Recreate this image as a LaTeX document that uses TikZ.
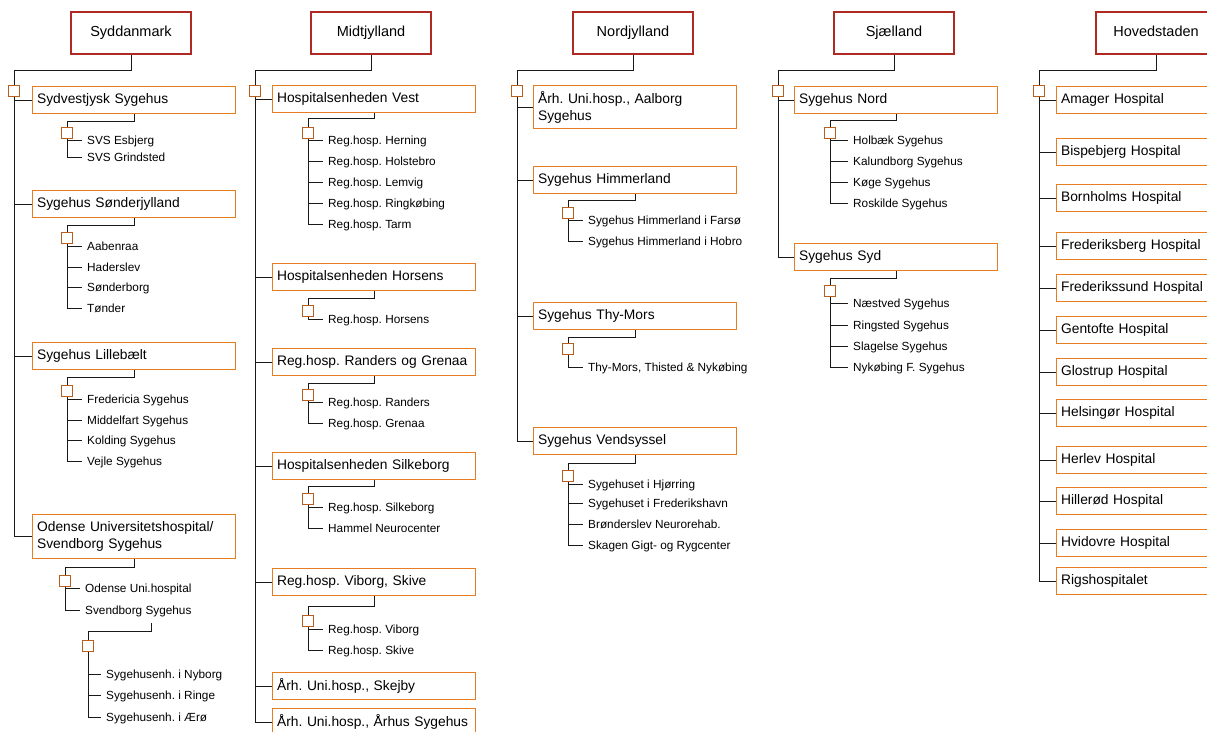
\documentclass[tikz,border=0pt]{standalone}
\usepackage{fontspec}
\setmainfont{Liberation Sans}

\definecolor{regionred}{RGB}{176,42,36}
\definecolor{unitorange}{RGB}{230,125,35}
\definecolor{markbrown}{RGB}{185,95,30}

\tikzset{
  regionbox/.style={draw=regionred, line width=2pt, fill=white, minimum width=120pt, minimum height=42pt, text height=10.5pt, text depth=3pt, font=\fontsize{14.5}{17}\selectfont},
  unitbox/.style={draw=unitorange, line width=1.2pt, fill=white, anchor=north west, text width=194pt, inner xsep=4.5pt, minimum height=27pt, align=left, font=\fontsize{13.8}{17}\selectfont},
  itembox/.style={anchor=west, inner xsep=5pt, inner ysep=0pt, text height=10pt, text depth=2pt, font=\fontsize{11.8}{14}\selectfont},
  markbox/.style={draw=markbrown, fill=white, line width=0.9pt, minimum size=11pt, inner sep=0pt},
  conn/.style={draw=black!90, line width=1pt},
}

\begin{document}
\frenchspacing
\begin{tikzpicture}[x=1pt, y=-1pt]
    \useasboundingbox (0,0) rectangle (1207,731);
    \clip (0,0) rectangle (1207,731);

    % ---------- Syddanmark ----------
    \node[regionbox] (sdk) at (131,33) {Syddanmark};
    \coordinate (sdkT) at (14,70);
    \node[unitbox] (sdk1) at (32,86) {Sydvestjysk Sygehus};
    \node[unitbox] (sdk2) at (32,190) {Sygehus Sønderjylland};
    \node[unitbox] (sdk3) at (32,342) {Sygehus Lillebælt};
    \node[unitbox, minimum height=44pt] (sdk4) at (32,514) {Odense Universitetshospital/\\Svendborg Sygehus};
    \draw[conn] (sdk.south) |- (sdkT) -- (sdkT |- sdk4.west);
    \foreach \i in {1,...,4} \draw[conn] (sdkT |- sdk\i.west) -- (sdk\i.west);
    \node[markbox] (sdkM) at (14,91) {};

    % Sydvestjysk Sygehus
    \coordinate (sdk1K) at (67,121);
    \foreach \txt/\y [count=\i] in {SVS Esbjerg/140, SVS Grindsted/157}{
      \node[itembox] (sdk1i\i) at (82,\y) {\txt};
      \draw[conn] (sdk1K |- sdk1i\i.west) -- (sdk1i\i.west);
    }
    \draw[conn] (sdk1.south) |- (sdk1K) -- (sdk1K |- sdk1i2.west);
    \node[markbox] (sdk1M) at (67,133) {};

    % Sygehus Sønderjylland
    \coordinate (sdk2K) at (67,225);
    \foreach \txt/\y [count=\i] in {Aabenraa/246, Haderslev/267, Sønderborg/287, Tønder/308}{
      \node[itembox] (sdk2i\i) at (82,\y) {\txt};
      \draw[conn] (sdk2K |- sdk2i\i.west) -- (sdk2i\i.west);
    }
    \draw[conn] (sdk2.south) |- (sdk2K) -- (sdk2K |- sdk2i4.west);
    \node[markbox] (sdk2M) at (67,238) {};

    % Sygehus Lillebælt
    \coordinate (sdk3K) at (67,377);
    \foreach \txt/\y [count=\i] in {Fredericia Sygehus/399, Middelfart Sygehus/420, Kolding Sygehus/440, Vejle Sygehus/461}{
      \node[itembox] (sdk3i\i) at (82,\y) {\txt};
      \draw[conn] (sdk3K |- sdk3i\i.west) -- (sdk3i\i.west);
    }
    \draw[conn] (sdk3.south) |- (sdk3K) -- (sdk3K |- sdk3i4.west);
    \node[markbox] (sdk3M) at (67,391) {};

    % Odense / Svendborg
    \coordinate (sdk4K) at (65,567);
    \foreach \txt/\y [count=\i] in {Odense Uni.hospital/588, Svendborg Sygehus/610}{
      \node[itembox] (sdk4i\i) at (80,\y) {\txt};
      \draw[conn] (sdk4K |- sdk4i\i.west) -- (sdk4i\i.west);
    }
    \draw[conn] (sdk4.south) |- (sdk4K) -- (sdk4K |- sdk4i2.west);
    \node[markbox] (sdk4M) at (65,581) {};

    % Svendborg Sygehus
    \coordinate (sdk5K) at (88,631);
    \foreach \txt/\y [count=\i] in {Sygehusenh. i Nyborg/674, Sygehusenh. i Ringe/695, Sygehusenh. i Ærø/717}{
      \node[itembox] (sdk5i\i) at (101,\y) {\txt};
      \draw[conn] (sdk5K |- sdk5i\i.west) -- (sdk5i\i.west);
    }
    \draw[conn] ([xshift=13pt, yshift=-7pt]sdk4i2.south) |- (sdk5K) -- (sdk5K |- sdk5i3.west);
    \node[markbox] (sdk5M) at (88,646) {};

    % ---------- Midtjylland ----------
    \node[regionbox] (mid) at (371,33) {Midtjylland};
    \coordinate (midT) at (255,70);
    \node[unitbox] (mid1) at (272,85) {Hospitalsenheden Vest};
    \node[unitbox] (mid2) at (272,263) {Hospitalsenheden Horsens};
    \node[unitbox] (mid3) at (272,348) {Reg.hosp. Randers og Grenaa};
    \node[unitbox] (mid4) at (272,452) {Hospitalsenheden Silkeborg};
    \node[unitbox] (mid5) at (272,568) {Reg.hosp. Viborg, Skive};
    \node[unitbox] (mid6) at (272,672) {Årh. Uni.hosp., Skejby};
    \node[unitbox] (mid7) at (272,708) {Årh. Uni.hosp., Århus Sygehus};
    \draw[conn] (mid.south) |- (midT) -- (midT |- mid7.west);
    \foreach \i in {1,...,7} \draw[conn] (midT |- mid\i.west) -- (mid\i.west);
    \node[markbox] (midM) at (255,91) {};

    % Hospitalsenheden Vest
    \coordinate (mid1K) at (308,118);
    \foreach \txt/\y [count=\i] in {Reg.hosp. Herning/140, Reg.hosp. Holstebro/161, Reg.hosp. Lemvig/182, Reg.hosp. Ringkøbing/203, Reg.hosp. Tarm/224}{
      \node[itembox] (mid1i\i) at (323,\y) {\txt};
      \draw[conn] (mid1K |- mid1i\i.west) -- (mid1i\i.west);
    }
    \draw[conn] (mid1.south) |- (mid1K) -- (mid1K |- mid1i5.west);
    \node[markbox] (mid1M) at (308,133) {};

    % Hospitalsenheden Horsens
    \coordinate (mid2K) at (308,298);
    \node[itembox] (mid2i1) at (323,319) {Reg.hosp. Horsens};
    \draw[conn] (mid2.south) |- (mid2K) |- (mid2i1.west);
    \node[markbox] (mid2M) at (308,311) {};

    % Randers og Grenaa
    \coordinate (mid3K) at (308,383);
    \foreach \txt/\y [count=\i] in {Reg.hosp. Randers/402, Reg.hosp. Grenaa/423}{
      \node[itembox] (mid3i\i) at (323,\y) {\txt};
      \draw[conn] (mid3K |- mid3i\i.west) -- (mid3i\i.west);
    }
    \draw[conn] (mid3.south) |- (mid3K) -- (mid3K |- mid3i2.west);
    \node[markbox] (mid3M) at (308,395) {};

    % Hospitalsenheden Silkeborg
    \coordinate (mid4K) at (308,486);
    \foreach \txt/\y [count=\i] in {Reg.hosp. Silkeborg/507, Hammel Neurocenter/528}{
      \node[itembox] (mid4i\i) at (323,\y) {\txt};
      \draw[conn] (mid4K |- mid4i\i.west) -- (mid4i\i.west);
    }
    \draw[conn] (mid4.south) |- (mid4K) -- (mid4K |- mid4i2.west);
    \node[markbox] (mid4M) at (308,499) {};

    % Viborg, Skive
    \coordinate (mid5K) at (308,606);
    \foreach \txt/\y [count=\i] in {Reg.hosp. Viborg/629, Reg.hosp. Skive/650}{
      \node[itembox] (mid5i\i) at (323,\y) {\txt};
      \draw[conn] (mid5K |- mid5i\i.west) -- (mid5i\i.west);
    }
    \draw[conn] (mid5.south) |- (mid5K) -- (mid5K |- mid5i2.west);
    \node[markbox] (mid5M) at (308,621) {};

    % ---------- Nordjylland ----------
    \node[regionbox] (nor) at (633,33) {Nordjylland};
    \coordinate (norT) at (517,70);
    \node[unitbox, minimum height=43pt] (nor1) at (533,85) {Årh. Uni.hosp., Aalborg\\Sygehus};
    \node[unitbox] (nor2) at (533,166) {Sygehus Himmerland};
    \node[unitbox] (nor3) at (533,302) {Sygehus Thy-Mors};
    \node[unitbox] (nor4) at (533,427) {Sygehus Vendsyssel};
    \draw[conn] (nor.south) |- (norT) -- (norT |- nor4.west);
    \foreach \i in {1,...,4} \draw[conn] (norT |- nor\i.west) -- (nor\i.west);
    \node[markbox] (norM) at (517,91) {};

    % Sygehus Himmerland
    \coordinate (nor2K) at (568,200);
    \foreach \txt/\y [count=\i] in {Sygehus Himmerland i Farsø/220, Sygehus Himmerland i Hobro/241}{
      \node[itembox] (nor2i\i) at (583,\y) {\txt};
      \draw[conn] (nor2K |- nor2i\i.west) -- (nor2i\i.west);
    }
    \draw[conn] (nor2.south) |- (nor2K) -- (nor2K |- nor2i2.west);
    \node[markbox] (nor2M) at (568,213) {};

    % Sygehus Thy-Mors
    \coordinate (nor3K) at (568,337);
    \node[itembox] (nor3i1) at (583,367) {Thy-Mors, Thisted \& Nykøbing};
    \draw[conn] (nor3.south) |- (nor3K) |- (nor3i1.west);
    \node[markbox] (nor3M) at (568,349) {};

    % Sygehus Vendsyssel
    \coordinate (nor4K) at (568,463);
    \foreach \txt/\y [count=\i] in {Sygehuset i Hjørring/484, Sygehuset i Frederikshavn/503, Brønderslev Neurorehab./524, Skagen Gigt- og Rygcenter/545}{
      \node[itembox] (nor4i\i) at (583,\y) {\txt};
      \draw[conn] (nor4K |- nor4i\i.west) -- (nor4i\i.west);
    }
    \draw[conn] (nor4.south) |- (nor4K) -- (nor4K |- nor4i4.west);
    \node[markbox] (nor4M) at (568,476) {};

    % ---------- Sjælland ----------
    \node[regionbox] (sja) at (894,33) {Sjælland};
    \coordinate (sjaT) at (778,70);
    \node[unitbox] (sja1) at (794,86) {Sygehus Nord};
    \node[unitbox] (sja2) at (794,243) {Sygehus Syd};
    \draw[conn] (sja.south) |- (sjaT) -- (sjaT |- sja2.west);
    \foreach \i in {1,2} \draw[conn] (sjaT |- sja\i.west) -- (sja\i.west);
    \node[markbox] (sjaM) at (778,91) {};

    % Sygehus Nord
    \coordinate (sja1K) at (830,120);
    \foreach \txt/\y [count=\i] in {Holbæk Sygehus/140, Kalundborg Sygehus/161, Køge Sygehus/182, Roskilde Sygehus/203}{
      \node[itembox] (sja1i\i) at (848,\y) {\txt};
      \draw[conn] (sja1K |- sja1i\i.west) -- (sja1i\i.west);
    }
    \draw[conn] (sja1.south) |- (sja1K) -- (sja1K |- sja1i4.west);
    \node[markbox] (sja1M) at (830,133) {};

    % Sygehus Syd
    \coordinate (sja2K) at (830,278);
    \foreach \txt/\y [count=\i] in {Næstved Sygehus/303, Ringsted Sygehus/325, Slagelse Sygehus/346, Nykøbing F. Sygehus/367}{
      \node[itembox] (sja2i\i) at (848,\y) {\txt};
      \draw[conn] (sja2K |- sja2i\i.west) -- (sja2i\i.west);
    }
    \draw[conn] (sja2.south) |- (sja2K) -- (sja2K |- sja2i4.west);
    \node[markbox] (sja2M) at (830,291) {};

    % ---------- Hovedstaden ----------
    \node[regionbox] (hov) at (1156,33) {Hovedstaden};
    \coordinate (hovT) at (1039,70);
    \foreach \txt/\y [count=\i] in {Amager Hospital/86, Bispebjerg Hospital/138, Bornholms Hospital/184, Frederiksberg Hospital/232, Frederikssund Hospital/274, Gentofte Hospital/316, Glostrup Hospital/358, Helsingør Hospital/399, Herlev Hospital/446, Hillerød Hospital/487, Hvidovre Hospital/529, Rigshospitalet/567}{
      \node[unitbox] (hov\i) at (1056,\y) {\txt};
      \draw[conn] (hovT |- hov\i.west) -- (hov\i.west);
    }
    \draw[conn] (hov.south) |- (hovT) -- (hovT |- hov12.west);
    \node[markbox] (hovM) at (1039,91) {};
\end{tikzpicture}
\end{document}
